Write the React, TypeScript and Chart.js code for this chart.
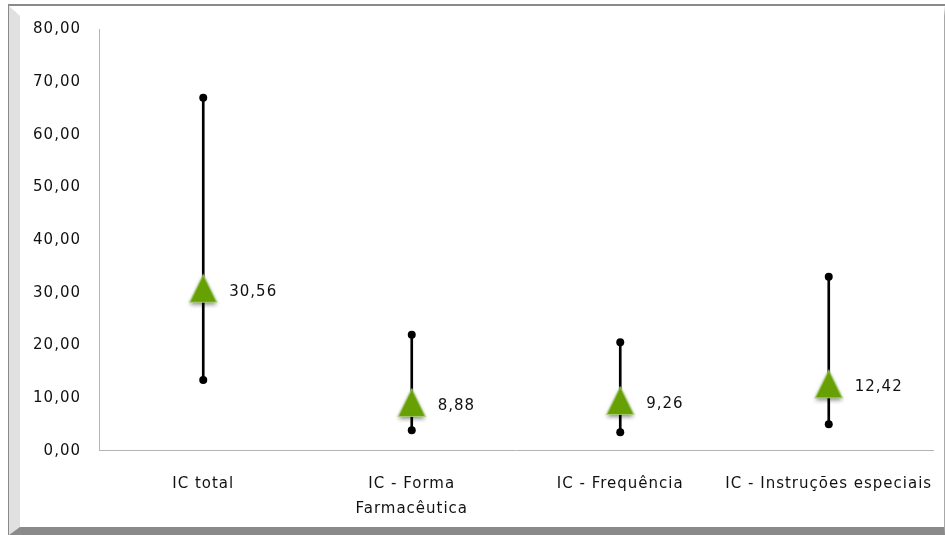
import React, { useEffect, useRef } from "react";
import { Chart, registerables } from "chart.js";

Chart.register(...registerables);

const categories: string[][] = [
  ["IC total"],
  ["IC - Forma", "Farmacêutica"],
  ["IC - Frequência"],
  ["IC - Instruções especiais"],
];
const lowerValues: number[] = [13.4, 3.9, 3.5, 5.0];
const upperValues: number[] = [67.0, 22.0, 20.6, 33.0];
const meanValues: number[] = [30.56, 8.88, 9.26, 12.42];
const yMin = 0;
const yMax = 80;
const yStep = 10;

const FONT_FAMILY = '"DejaVu Sans", sans-serif';
const TEXT_COLOR = "#111111";
const fmt = (v: number) => v.toFixed(2).replace(".", ",");

function makeTriangleMarker(): HTMLCanvasElement {
  const c = document.createElement("canvas");
  c.width = 40;
  c.height = 40;
  const ctx = c.getContext("2d")!;
  ctx.save();
  ctx.shadowColor = "rgba(0,0,0,0.45)";
  ctx.shadowBlur = 4;
  ctx.shadowOffsetY = 2.5;
  ctx.beginPath();
  ctx.moveTo(20, 5);
  ctx.lineTo(33.5, 32.5);
  ctx.lineTo(6.5, 32.5);
  ctx.closePath();
  ctx.fillStyle = "#66a003";
  ctx.fill();
  ctx.restore();
  ctx.beginPath();
  ctx.moveTo(20, 5);
  ctx.lineTo(33.5, 32.5);
  ctx.lineTo(6.5, 32.5);
  ctx.closePath();
  ctx.lineWidth = 1.2;
  ctx.strokeStyle = "rgba(170,205,120,0.9)";
  ctx.stroke();
  ctx.beginPath();
  ctx.moveTo(20, 6.5);
  ctx.lineTo(32, 31.5);
  ctx.lineTo(8, 31.5);
  ctx.closePath();
  ctx.fillStyle = "#66a003";
  ctx.fill();
  return c;
}

const spacingPlugin = {
  id: "letterSpacing",
  beforeLayout(chart: any) {
    chart.ctx.letterSpacing = "1px";
  },
  beforeDraw(chart: any) {
    chart.ctx.letterSpacing = "1px";
  },
};

const valueLabelPlugin = {
  id: "valueLabels",
  afterDatasetsDraw(chart: any) {
    const meta = chart.getDatasetMeta(3);
    const ctx = chart.ctx;
    ctx.save();
    ctx.letterSpacing = "1px";
    ctx.font = `15px ${FONT_FAMILY}`;
    ctx.fillStyle = TEXT_COLOR;
    ctx.textAlign = "left";
    ctx.textBaseline = "middle";
    meta.data.forEach((el: any, i: number) => {
      ctx.fillText(fmt(meanValues[i]), el.x + 26, el.y + 2);
    });
    ctx.restore();
  },
};

export default function App() {
  const ref = useRef<HTMLCanvasElement>(null);

  useEffect(() => {
    if (!ref.current) return;
    const marker = makeTriangleMarker();
    const chart = new Chart(ref.current, {
      type: "bar",
      data: {
        labels: categories as any,
        datasets: [
          {
            type: "bar",
            data: lowerValues.map((l, i) => [l, upperValues[i]]) as any,
            backgroundColor: "#000000",
            barThickness: 2,
            order: 2,
          },
          {
            type: "line",
            data: lowerValues,
            showLine: false,
            pointRadius: 4,
            pointBackgroundColor: "#000000",
            pointBorderWidth: 0,
            order: 1,
          },
          {
            type: "line",
            data: upperValues,
            showLine: false,
            pointRadius: 4,
            pointBackgroundColor: "#000000",
            pointBorderWidth: 0,
            order: 1,
          },
          {
            type: "line",
            data: meanValues,
            showLine: false,
            pointStyle: marker,
            pointRadius: 18,
            order: 0,
          },
        ] as any,
      },
      options: {
        animation: false,
        responsive: false,
        devicePixelRatio: 1,
        layout: { autoPadding: false, padding: { left: 20, top: 29.3, right: 12, bottom: 0 } },
        plugins: {
          legend: { display: false },
          tooltip: { enabled: false },
        },
        scales: {
          x: {
            offset: true,
            grid: { display: true, color: "rgba(0,0,0,0)", drawTicks: false },
            border: { display: true, color: "#b4b4b4", width: 1 },
            ticks: {
              color: TEXT_COLOR,
              font: { family: FONT_FAMILY, size: 15, lineHeight: 1.65 },
              padding: 21,
              maxRotation: 0,
              minRotation: 0,
              autoSkip: false,
            },
            afterFit: (s: any) => {
              s.height = 535 - 450.7;
              s.paddingLeft = 0;
              s.paddingRight = 0;
            },
          },
          y: {
            min: yMin,
            max: yMax,
            grid: { display: true, color: "rgba(0,0,0,0)", drawTicks: false },
            border: { display: true, color: "#b4b4b4", width: 1 },
            ticks: {
              stepSize: yStep,
              color: TEXT_COLOR,
              font: { family: FONT_FAMILY, size: 15 },
              padding: 18,
              callback: (v: any) => fmt(Number(v)),
            },
            afterFit: (s: any) => {
              s.width = 79;
              s.paddingTop = 0;
              s.paddingBottom = 0;
            },
          },
        },
      },
      plugins: [spacingPlugin, valueLabelPlugin],
    });
    return () => chart.destroy();
  }, []);

  return (
    <div style={{ position: "absolute", left: 0, top: 0, width: 945, height: 535, overflow: "hidden", background: "#fff" }}>
      <div
        style={{
          position: "absolute",
          left: 8,
          top: 4,
          width: 937,
          height: 531,
          boxSizing: "border-box",
          borderTop: "2px solid #8a8a8a",
          borderLeft: "1px solid #8a8a8a",
        }}
      >
        <div
          style={{
            width: "100%",
            height: "100%",
            boxSizing: "border-box",
            borderLeft: "11px solid #e0e0e0",
            borderTop: "10px solid #ffffff",
            borderRight: "1px solid #a8a8a8",
            borderBottom: "8px solid #8a8a8a",
          }}
        />
      </div>
      <canvas
        ref={ref}
        width={945}
        height={535}
        style={{ position: "absolute", left: 0, top: 0, width: 945, height: 535 }}
      />
    </div>
  );
}
